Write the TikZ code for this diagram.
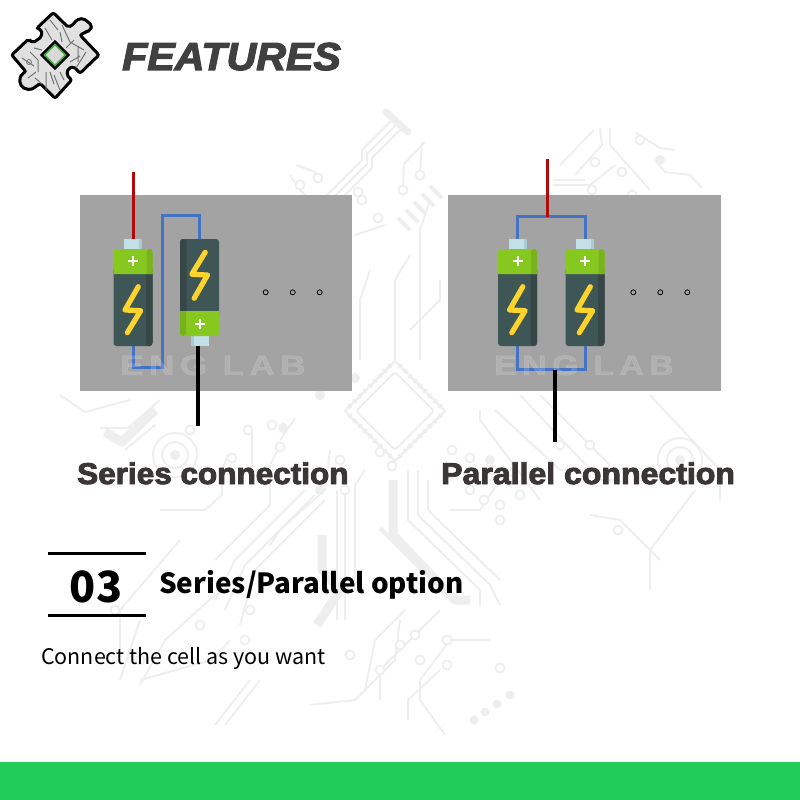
\documentclass[tikz,border=0pt]{standalone}
\usepackage{fontspec}
\usepackage{tikz}
\usetikzlibrary{arrows.meta,positioning,calc}
\setmainfont{Noto Sans CJK SC}
\newfontfamily\headfont[BoldFeatures={FakeBold=3},BoldItalicFeatures={FakeBold=3}]{Liberation Sans}
\newfontfamily\stampfont[LetterSpace=16,BoldFeatures={FakeBold=1.5}]{Liberation Sans}
\definecolor{panelgray}{HTML}{A3A3A3}
\definecolor{tracegray}{HTML}{EEEEEE}
\definecolor{titlegray}{HTML}{404040}
\definecolor{headgray}{HTML}{3B3636}
\definecolor{wirered}{HTML}{B00A0A}
\definecolor{wireblue}{HTML}{4472C4}
\definecolor{celldark}{HTML}{3F5657}
\definecolor{cellshade}{HTML}{374748}
\definecolor{cellgreen}{HTML}{86C820}
\definecolor{greenshade}{HTML}{78B31E}
\definecolor{cellcap}{HTML}{C3E0E7}
\definecolor{capshade}{HTML}{A9CBD4}
\definecolor{boltyellow}{HTML}{FDD42B}
\definecolor{barGreen}{HTML}{22CC5B}
\definecolor{chipgreen}{HTML}{3FAE3F}
\tikzset{
 trace/.style={draw=tracegray,line width=1.8,line join=round},
 fatrace/.style={draw=tracegray,line width=9,line join=round},
 pad/.style={draw=tracegray,line width=1.8,fill=white},
 panel/.style={fill=panelgray},
 redwire/.style={draw=wirered,line width=3},
 bluewire/.style={draw=wireblue,line width=3},
 blackwire/.style={draw=black,line width=3.6},
 stamp/.style={anchor=base west,inner sep=0,text=white,text opacity=0.16,font=\stampfont\bfseries\fontsize{28}{28}\selectfont},
 headtext/.style={anchor=base west,inner sep=0,text=headgray,font=\headfont\bfseries\fontsize{30}{30}\selectfont},
 dot/.style={draw=black,line width=0.8},
 cell/.pic={
  \fill[cellcap] (-9,-58) rectangle (9,-47);
  \fill[capshade] (6,-58) rectangle (9,-47);
  \fill[celldark,rounded corners=3] (-19.5,-30) rectangle (19.5,49);
  \fill[cellshade,rounded corners=3] (13,-30) rectangle (19.5,49);
  \fill[cellgreen,rounded corners=3] (-19.5,-23) -- (-19.5,-48) -- (19.5,-48) -- (19.5,-23);
  \fill[greenshade,rounded corners=3] (13.5,-23) -- (13.5,-48) -- (19.5,-48) -- (19.5,-23);
  \draw[white,line width=2] (-5,-36) -- (5,-36) (0,-41) -- (0,-31);
  \draw[boltyellow,line width=5.2,line cap=round,line join=round] (5.3,-10.3) -- (-8,13) -- (7.7,13.7) -- (-5.7,35.7);
  \coordinate (-top) at (0,-58);
  \coordinate (-bot) at (0,49);
 }
}
\begin{document}
\begin{tikzpicture}[x=1pt,y=-1pt]
\useasboundingbox (0,0) rectangle (800,800);
\fill[white] (0,0) rectangle (800,800);
\foreach \p in {
 {(392,120)--(362,150)--(362,160)--(322,200)},
 {(397,124)--(367,154)--(367,164)--(327,204)},
 {(402,128)--(372,158)--(372,168)--(332,208)},
 {(425,142)--(404,164)--(403,188)},
 {(422,142)--(420,172)},
 {(296,165)--(315,172)--(320,180)},
 {(290,175)--(300,190)--(320,210)},
 {(594,130)--(560,165)},
 {(600,128)--(602,145)--(575,175)},
 {(610,128)--(610,145)--(650,190)},
 {(635,132)--(660,148)--(675,150)},
 {(655,160)--(665,172)--(690,175)--(702,188)},
 {(553,185)--(590,185)--(615,165)},
 {(553,180)--(585,180)},
 {(100,428)--(128,428)--(160,400)},
 {(125,450)--(155,425)},
 {(60,395)--(85,412)--(130,400)},
 {(228,455)--(222,470)--(222,495)--(205,510)--(160,510)},
 {(252,430)--(252,465)--(240,480)},
 {(280,445)--(270,465)--(270,505)--(215,560)},
 {(295,418)--(280,440)},
 {(330,450)--(325,490)--(280,530)--(270,545)},
 {(305,490)--(235,560)--(215,600)},
 {(315,495)--(245,565)--(225,610)},
 {(325,500)--(255,570)--(240,625)},
 {(215,595)--(165,640)--(140,685)},
 {(230,640)--(212,660)--(140,680)},
 {(250,680)--(215,725)},
 {(260,680)--(225,725)},
 {(365,470)--(355,485)--(355,590)},
 {(337,490)--(337,620)},
 {(345,490)--(345,620)},
 {(408,470)--(408,520)--(480,590)--(480,605)},
 {(418,470)--(418,515)--(490,585)--(500,605)},
 {(428,480)--(428,510)--(500,580)},
 {(480,410)--(480,420)--(540,500)},
 {(495,410)--(560,470)--(595,470)},
 {(520,395)--(600,480)--(620,480)},
 {(540,395)--(610,465)},
 {(650,395)--(720,470)--(720,500)},
 {(590,515)--(620,520)--(660,560)},
 {(695,490)--(650,550)--(650,590)},
 {(400,620)--(395,660)--(355,700)--(310,705)},
 {(440,610)--(380,670)--(380,700)},
 {(405,610)--(375,640)--(365,690)},
 {(490,640)--(450,640)--(420,680)--(420,700)--(445,735)},
 {(440,670)--(408,700)--(408,720)},
 {(180,540)--(120,610)--(120,650)},
 {(140,620)--(120,680)},
 {(470,330)--(470,290)},
 {(500,480)--(480,510)--(450,510)},
 {(430,200)--(420,230)--(420,360)},
 {(410,255)--(395,280)--(395,360)},
 {(370,270)--(360,300)--(360,360)},
 {(355,235)--(385,225)},
 {(410,330)--(440,300)--(440,280)}
 }
 {\draw[trace] \p;}
\foreach \px/\py in {318/178,358/192,362/200,420/175,403/190,378/218,300/185,320/218,
 640/140,595/162,592/190,622/172,605/215,632/195,
 165/442,248/430,190/430,272/425,232/458,280/447,
 392/466,345/490,340/460,380/452,452/450,470/458,492/470,510/480,520/495,
 470/490,484/500,500/505,560/445,590/445,618/530,500/520,
 250/610,245/640,140/660,115/610,200/625,
 350/655,415/635,420/660,447/665,447/640,380/670,400/645,500/668}
 {\draw[pad] (\px,\py) circle(4.5);}
\foreach \px/\py in {283/428,320/395,320/490,355/378,660/160,640/215,490/460}
 {\fill[tracegray] (\px,\py) circle(5);}
\draw[pad] (175,455) circle(22) (175,455) circle(13);
\fill[tracegray] (175,455) circle(5);
\draw[pad] (680,460) circle(22) (680,460) circle(13);
\fill[tracegray] (680,460) circle(5);
\draw[fatrace] (105,432)--(122,442)--(155,410);
\draw[fatrace] (322,535)--(322,570)--(340,590)--(317,625);
\draw[fatrace] (393,480)--(393,535)--(455,600)--(470,600);
\draw[tracegray,line width=8] (345,235)--(325,255)--(325,270);
\draw[tracegray,line width=7,line cap=round] (386,112)--(408,132);
\foreach \cx/\cy in {410/230,418/222,426/214,434/206,442/198,
 392/540,400/548,408/556,416/564,424/572}
 {\draw[tracegray,line width=4] (\cx,\cy)--++(-12,-12);}
\foreach \cx/\cy in {510/695,497/704,485/712,474/720}
 {\fill[tracegray] (\cx,\cy) circle(4.5);}
\draw[tracegray,line width=2] (395,361)--(445,411)--(395,461)--(345,411)--cycle;
\draw[tracegray,line width=2,rounded corners=3] (395,372)--(434,411)--(395,450)--(356,411)--cycle;
\foreach \t in {0.1,0.2,...,0.9}
 {\fill[tracegray] ($(395,361)!\t!(445,411)$) circle(2.5);
  \fill[tracegray] ($(445,411)!\t!(395,461)$) circle(2.5);
  \fill[tracegray] ($(395,461)!\t!(345,411)$) circle(2.5);
  \fill[tracegray] ($(345,411)!\t!(395,361)$) circle(2.5);}
\fill[panel] (80,195) rectangle (352,391);
\fill[panel] (448,195) rectangle (721,391);
\pic (sa) at (133,297) {cell};
\pic[rotate=180] (sb) at (199.5,288) {cell};
\pic (pa) at (517.5,297) {cell};
\pic (pb) at (585,297) {cell};
\coordinate (sred) at (133,172);
\coordinate (sblack) at (198,425.5);
\coordinate (sturn) at (162.5,215.5);
\coordinate (pred) at (547.5,159);
\coordinate (pblue) at (547.5,216.5);
\coordinate (pblack) at (555,441.5);
\coordinate (pjoin) at (555,369.5);
\draw[redwire] (sred)--(sa-top);
\draw[bluewire] (sa-bot)--++(0,21)-|(sturn)-|(sb-bot);
\draw[bluewire] (pa-top)|-(pblue)-|(pb-top);
\draw[bluewire] (pa-bot)|-(pjoin)-|(pb-bot);
\node[stamp] (sstamp) at (120,375) {\scalebox{1.25}[1]{ENG LAB}};
\node[stamp] (pstamp) at (494,375) {\scalebox{1.21}[1]{ENG LAB}};
\draw[blackwire] (sblack|-sb-top)--(sblack);
\draw[redwire] (pred)--(pblue);
\draw[blackwire] (pjoin)--(pblack);
\foreach \x in {265.7,292.7,319.7,633.3,660.3,687.3}
 {\draw[dot] (\x,292.3) circle(2.5);}
\node[headtext] (stitle) at (77,484) {\scalebox{1.05}[1]{Series connection}};
\node[headtext] (ptitle) at (441,484) {\scalebox{1.068}[1]{Parallel connection}};
\draw[black,line width=3,rounded corners=2,fill=black!12]
 (53.3,12.7)--(68.3,27.3)--(74,24)--(76,20)--(83.3,18.3)--(91.7,25)--(90.7,30)--(83.3,33.3)--(80,35)--(99,55)--(80,73.3)--(74,66.7)--(68.3,68.3)--(66.7,75)--(71.7,80)--(55,98.3)--(40,83.3)--(36,86.7)--(30,90)--(21.7,87.3)--(19.3,80)--(21.7,74)--(26,71.7)--(11.7,55)--(28.3,39.3)--(33.3,42.7)--(41.7,36.7)--(41.7,30)--(36.7,28.3)--cycle;
\draw[black!55,line width=1] (30,52)--(38,60)--(38,72) (46,72)--(46,90) (54,75)--(60,90) (62,25)--(70,42)--(84,50) (78,46)--(78,62) (45,28)--(52,40) (60,32)--(62,42) (22,58)--(34,66) (35,78)--(42,84) (86,52)--(76,68)
 (50,20)--(58,30) (66,48)--(74,40) (70,62)--(80,56) (50,72)--(54,84) (34,48)--(42,50) (28,78)--(36,72) (60,72)--(64,80);
\draw[black!55,line width=0.8] (29,62) circle(2.5);
\draw[black,line width=3,fill=black] (55,42)--(68,55)--(55,68)--(42,55)--cycle;
\draw[chipgreen,line width=1.6,fill=black!15] (55,44.5)--(65.5,55)--(55,65.5)--(44.5,55)--cycle;
\node[anchor=base west,inner sep=0,text=titlegray] (feat) at (122,70)
 {\scalebox{1.055}[1]{\headfont\bfseries\itshape\fontsize{39}{39}\selectfont FEATURES}};
\coordinate (ruleal) at (48,553);
\coordinate (rulear) at (146,553);
\coordinate (rulebl) at (48,615);
\coordinate (rulebr) at (146,615);
\draw[black,line width=3] (ruleal)--(rulear);
\draw[black,line width=3] (rulebl)--(rulebr);
\node[anchor=base,inner sep=0] (num) at (96,602) {\fontsize{43}{43}\selectfont\bfseries 03};
\node[anchor=base west,inner sep=0] (opt) at (159,593) {\fontsize{27.8}{28}\selectfont\bfseries Series/Parallel option};
\node[anchor=base west,inner sep=0] (txt) at (41,664) {\fontsize{21.45}{22}\selectfont Connect the cell as you want};
\fill[barGreen] (0,762) rectangle (800,800);
\end{tikzpicture}
\end{document}
